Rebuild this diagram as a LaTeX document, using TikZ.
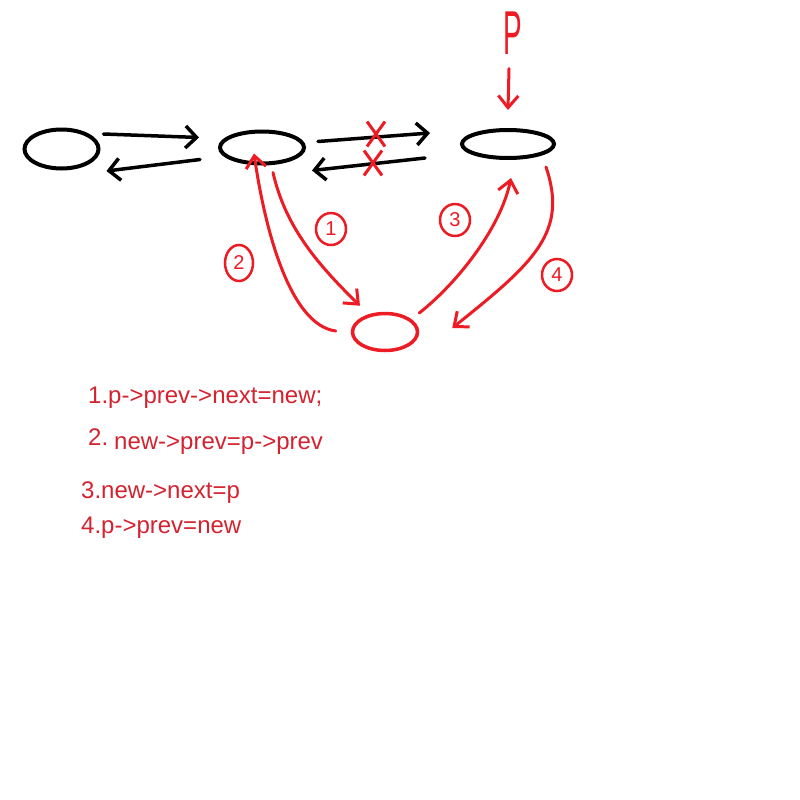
\documentclass[tikz,border=0pt]{standalone}
\usepackage{fontspec}
\setmainfont{Liberation Sans}
\usetikzlibrary{shapes.geometric,shapes.misc,arrows.meta}
\definecolor{pred}{HTML}{ED1C24}
\definecolor{tred}{HTML}{D42330}
\begin{document}
\begin{tikzpicture}[x=1pt,y=-1pt,
 blknode/.style={draw=black,line width=4pt,ellipse,inner sep=0pt},
 rednode/.style={draw=pred,line width=3.5pt,ellipse,inner sep=0pt},
 blkarrow/.style={draw=black,line width=3.5pt,line cap=round,-{Straight Barb[length=11pt,width=22pt]}},
 redarrow/.style={draw=pred,line width=3pt,line cap=round,-{Straight Barb[length=12pt,width=20pt]}},
 xmark/.style={draw=pred,line width=3pt,cross out,minimum width=15pt,minimum height=22pt,inner sep=0pt},
 numlabel/.style={draw=pred,line width=2.5pt,ellipse,inner sep=1pt,text=pred,font=\fontsize{20}{20}\selectfont,minimum width=30pt,minimum height=32pt},
 code/.style={text=tred,anchor=base west,inner sep=0pt,font=\fontsize{24}{24}\selectfont}]
\fill[white] (0,0) rectangle (800,800);
\useasboundingbox (0,0) rectangle (800,800);
% list nodes
\node[blknode,minimum width=74pt,minimum height=39pt] (e1) at (61.5,149) {};
\node[blknode,minimum width=84pt,minimum height=32pt] (e2) at (262,147.5) {};
\node[blknode,minimum width=92pt,minimum height=28pt] (e3) at (508,144) {};
\node[rednode,minimum width=65pt,minimum height=37pt] (en) at (385,332) {};
% black links
\draw[blkarrow] ([shift={(3,-15)}]e1.east) -- ([shift={(-19,-10)}]e2.west);
\draw[blkarrow] ([shift={(-18,12)}]e2.west) -- ([shift={(6,22)}]e1.east);
\draw[blkarrow] ([shift={(12,-6)}]e2.east) -- ([shift={(-30,-11)}]e3.west);
\draw[blkarrow] ([shift={(-35,14)}]e3.west) -- ([shift={(6,23)}]e2.east);
% crosses
\node[xmark] (x1) at (376,134) {};
\node[xmark] (x2) at (373,163) {};
% P pointer
\node[text=pred,inner sep=0pt,font=\fontsize{62}{62}\selectfont] (P) at (513,33) {\scalebox{0.45}[1]{P}};
\draw[redarrow] ([shift={(-4,14)}]P.south) -- ([shift={(0,-18)}]e3.north);
% red links
\draw[redarrow] ([shift={(11,7)}]e2.south) .. controls (285,225) and (315,262) .. ([shift={(-25,-6)}]en.north);
\draw[redarrow] ([shift={(-15,-1)}]en.west) .. controls (290,325) and (265,230) .. ([shift={(-8,-12)}]e2.south);
\draw[redarrow] ([shift={(0,-19)}]en.east) .. controls (455,285) and (500,230) .. ([shift={(3,18)}]e3.south);
\draw[redarrow] ([shift={(-10,23)}]e3.east) .. controls (568,232) and (535,262) .. ([shift={(33,-4)}]en.east);
% step labels
\node[numlabel] (n1) at (331,229) {1};
\node[numlabel,minimum width=28pt,minimum height=36pt] (n2) at (239,263) {2};
\node[numlabel] (n3) at (455,220) {3};
\node[numlabel] (n4) at (557,275) {4};
% code text
\node[code] (t1) at (88,403) {1.p->prev->next=new;};
\node[code] (t2a) at (88,445) {2.};
\node[code] (t2b) at (114,449) {new->prev=p->prev};
\node[code] (t3) at (81,498) {3.new->next=p};
\node[code] (t4) at (81,533) {4.p->prev=new};
\end{tikzpicture}
\end{document}
